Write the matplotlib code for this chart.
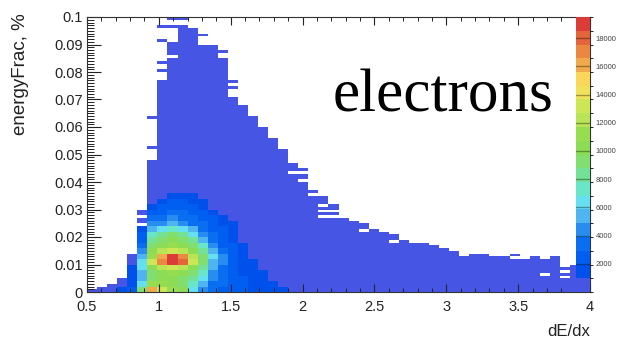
import numpy as np
import matplotlib.pyplot as plt
from matplotlib.colors import ListedColormap, BoundaryNorm
from matplotlib.ticker import MultipleLocator, FixedLocator, FixedFormatter

plt.rcParams['font.family'] = ['Liberation Sans', 'DejaVu Sans']

# binning: 50 bins in dE/dx, 100 bins in energy fraction
x_edges = np.linspace(0.5, 4.0, 51)
y_edges = np.linspace(0.0, 0.1, 101)

# top of the filled band in every dE/dx bin
col_top = [0.001, 0.002, 0.003, 0.005, 0.014, 0.030, 0.048, 0.077, 0.091, 0.097,
           0.096, 0.090, 0.090, 0.085, 0.071, 0.068, 0.064, 0.060, 0.056, 0.052,
           0.047, 0.045, 0.037, 0.035, 0.032, 0.027, 0.026, 0.025, 0.023, 0.022,
           0.021, 0.019, 0.018, 0.018, 0.017, 0.016, 0.015, 0.013, 0.014, 0.014,
           0.013, 0.013, 0.014, 0.012, 0.013, 0.012, 0.013, 0.009, 0.010, 0.010]

# lone filled bins above the band (dE/dx, energyFrac)
stray_bins = [(0.955, 0.0525), (0.955, 0.0635),
              (1.025, 0.0805), (1.025, 0.0835), (1.025, 0.0915), (1.025, 0.0965),
              (1.095, 0.0965), (1.095, 0.0995), (1.165, 0.0995),
              (1.305, 0.0935), (1.445, 0.0875),
              (1.515, 0.0745), (1.515, 0.0765)]

# empty bins inside the band
gap_bins = [(0.885, 0.0275), (0.885, 0.0245), (1.095, 0.0855),
            (1.935, 0.0435), (2.005, 0.0435), (2.005, 0.0405), (2.075, 0.0355),
            (2.145, 0.0315), (2.145, 0.0295), (2.145, 0.0275),
            (2.215, 0.0295), (2.215, 0.0275), (2.425, 0.0225), (2.635, 0.0185),
            (3.475, 0.0125), (3.685, 0.0065), (3.825, 0.0075), (3.825, 0.0055)]

# entries in the sparse part of the band
tail_count = 400

# dense core: one list per dE/dx bin (bins 3..19), energyFrac steps of 0.002 from 0
core_first_bin = 3
core_by_col = [
    [1500],
    [2400, 1500, 1500, 1500, 1500],
    [9300, 6300, 5400, 5400, 6300, 6300, 5400, 4400, 3400, 2400, 2400, 1500],
    [16100, 11200, 9300, 9300, 10200, 13200, 11200, 10200, 9300, 8300, 7300, 5400, 4400, 3400, 2400, 1500],
    [13200, 11200, 10200, 10200, 12200, 17000, 16100, 12200, 10200, 9300, 8300, 6300, 4400, 3400, 2400, 2400, 1500],
    [11200, 10200, 10200, 11200, 13200, 19000, 19000, 13200, 11200, 10200, 9300, 7300, 5400, 4400, 3400, 2400, 2400, 1500],
    [10200, 9300, 9300, 10200, 12200, 18000, 17000, 12200, 10200, 9300, 8300, 6300, 4400, 3400, 3400, 2400, 2400, 1500],
    [6300, 7300, 8300, 9300, 10200, 13200, 12200, 10200, 9300, 8300, 6300, 5400, 3400, 3400, 2400, 2400, 1500, 1500],
    [4400, 5400, 6300, 7300, 8300, 9300, 9300, 8300, 7300, 5400, 4400, 3400, 3400, 2400, 2400, 1500, 1500],
    [3400, 3400, 4400, 4400, 5400, 5400, 6300, 5400, 4400, 3400, 3400, 2400, 2400, 2400, 1500],
    [2400, 3400, 3400, 3400, 3400, 4400, 4400, 3400, 2400, 2400, 2400, 2400, 1500, 1500],
    [2400, 2400, 2400, 2400, 2400, 2400, 2400, 2400, 2400, 1500, 1500, 1500, 1500],
    [2400, 2400, 2400, 1500, 1500, 1500, 1500, 1500, 1500],
    [1500, 1500, 1500, 1500, 1500, 1500],
    [1500, 1500, 1500, 1500],
    [1500, 1500],
    [1500],
]

z_max = 19500
z_ticks = [2000, 4000, 6000, 8000, 10000, 12000, 14000, 16000, 18000]

# ROOT-like rainbow palette, 20 levels
palette = ['#4655e4', '#0050eb', '#005ff0', '#0a6ef0', '#288cf0', '#50b4f0',
           '#64e0f0', '#69e6c8', '#73e196', '#82de6e', '#8cdc55', '#96de50',
           '#b9e455', '#cde655', '#f0e15a', '#fad75a', '#f0aa4b', '#eb8741',
           '#e4643c', '#dc3c37']

# fill the count grid
nx, ny = len(x_edges) - 1, len(y_edges) - 1
counts = np.zeros((ny, nx))
for i, top in enumerate(col_top):
    counts[:int(round(top * 1000)), i] = tail_count
for xv, yv in stray_bins:
    counts[int(yv * 1000), int((xv - 0.5) / 0.07)] = tail_count
for xv, yv in gap_bins:
    counts[int(yv * 1000), int((xv - 0.5) / 0.07)] = 0
for c, col in enumerate(core_by_col):
    i = core_first_bin + c
    for p, v in enumerate(col):
        for j in (2 * p, 2 * p + 1):
            if counts[j, i] > 0:
                counts[j, i] = max(counts[j, i], v)
counts = np.ma.masked_equal(counts, 0)

fig = plt.figure(figsize=(6.19, 3.39), dpi=100)
ax = fig.add_axes([87 / 619, 47 / 339, 503 / 619, 275 / 339])

cmap = ListedColormap(palette)
norm = BoundaryNorm(np.linspace(0, z_max, len(palette) + 1), len(palette))
mesh = ax.pcolormesh(x_edges, y_edges, counts, cmap=cmap, norm=norm)

ax.set_xlim(0.5, 4.0)
ax.set_ylim(0, 0.1)
ax.xaxis.set_major_locator(FixedLocator([0.5, 1, 1.5, 2, 2.5, 3, 3.5, 4]))
ax.xaxis.set_major_formatter(FixedFormatter(['0.5', '1', '1.5', '2', '2.5', '3', '3.5', '4']))
ax.xaxis.set_minor_locator(MultipleLocator(0.1))
ax.yaxis.set_major_locator(FixedLocator(np.arange(11) * 0.01))
ax.yaxis.set_major_formatter(FixedFormatter(['0', '0.01', '0.02', '0.03', '0.04', '0.05',
                                             '0.06', '0.07', '0.08', '0.09', '0.1']))
ax.yaxis.set_minor_locator(MultipleLocator(0.001))

ax.tick_params(axis='x', which='both', direction='in', top=True, bottom=True,
               labelsize=10.5, pad=6, colors='#222222')
ax.tick_params(axis='x', which='major', length=6, width=0.8)
ax.tick_params(axis='x', which='minor', length=3, width=0.7)
ax.tick_params(axis='y', which='both', direction='in', left=True, right=False,
               labelsize=10.5, pad=3, colors='#222222')
ax.tick_params(axis='y', which='major', length=10, width=0.8)
ax.tick_params(axis='y', which='minor', length=5, width=0.7)
for s in ax.spines.values():
    s.set_linewidth(0.8)
    s.set_color('#333333')

# palette on the right, drawn over the frame
cax = fig.add_axes([576 / 619, 47 / 339, 14 / 619, 275 / 339])
cb = fig.colorbar(mesh, cax=cax, ticks=z_ticks)
cb.outline.set_visible(False)
cax.tick_params(length=0, labelsize=5.5, pad=4, colors='#444444')
for t in z_ticks:
    cax.axhline(t, color='black', alpha=0.35, lw=1)

fig.text(21 / 619, 1 - 13 / 339, 'energyFrac, %', rotation=90, ha='center', va='top',
         fontsize=13.5, color='#222222')
fig.text(590 / 619, 1 - 331 / 339, 'dE/dx', ha='right', va='center',
         fontsize=12, color='#222222')
fig.text(333 / 619, 1 - 112 / 339, 'electrons', ha='left', va='baseline',
         fontsize=44, family='Liberation Serif', color='black')

fig.savefig('out.png', dpi=100)
